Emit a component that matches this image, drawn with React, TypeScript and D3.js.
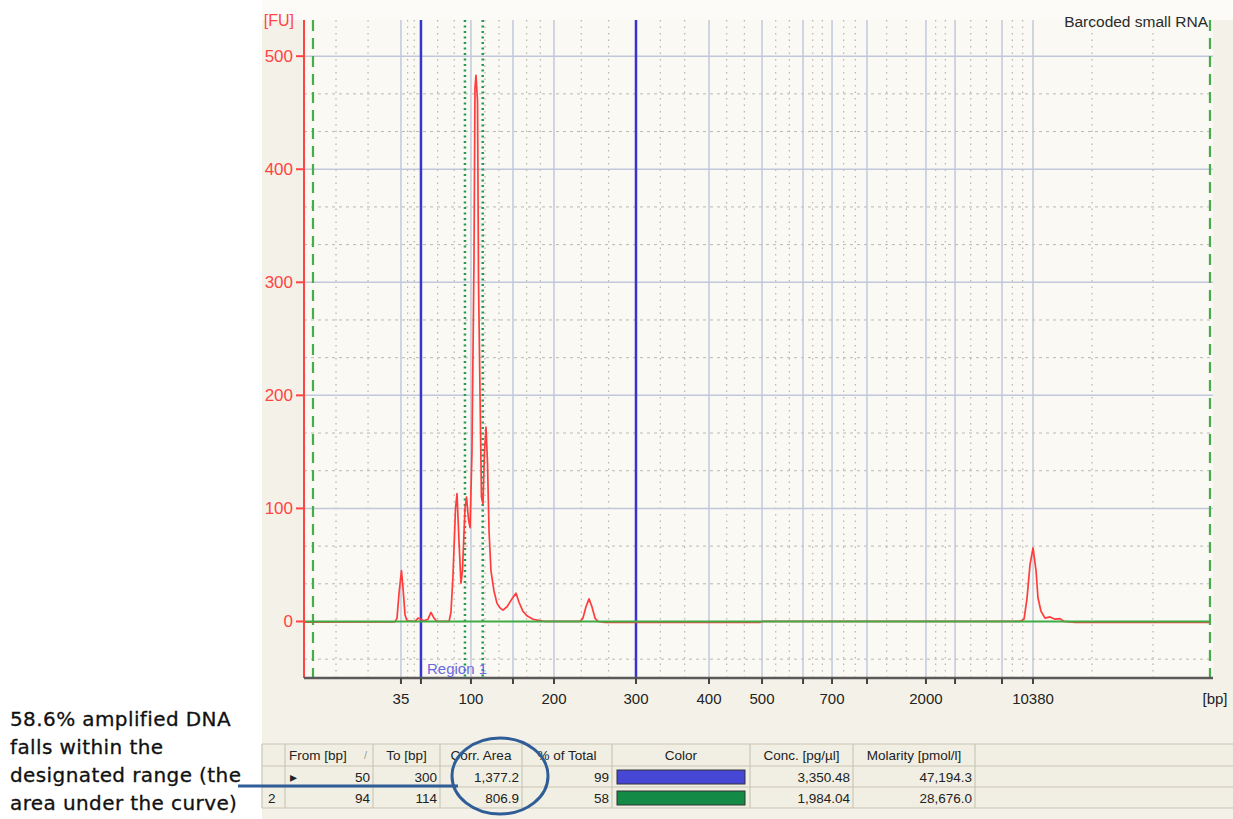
import React from 'react';
import * as d3 from 'd3';

const W = 1233;
const H = 819;

// plot frame
const PL = 304, PR = 1213, PT = 20, PB = 678;

// axis extents: migration time (s) and fluorescence (FU)
const timeDomain = [40, 130];
const fuDomain = [-50, 532];

// ladder peaks (bp) and their migration times (s)
const ladderBp = [35, 50, 100, 150, 200, 300, 400, 500, 600, 700, 1000, 2000, 3000, 7000, 10380];
const ladderTime = [49.6, 51.58, 56.53, 60.69, 64.75, 72.87, 80.1, 85.35, 89.41, 92.28, 95.74, 101.58, 104.46, 109.11, 112.18];
const labeledBp = [35, 100, 200, 300, 400, 500, 700, 2000, 10380];
const edgeGridTime = [43.17, 46.34, 118.02, 124.06];
const markerTime = [40.89, 129.7];

const yTicks = [0, 100, 200, 300, 400, 500];

// electropherogram trace
const traceTime = [
  40.0, 49.01, 49.21, 49.41, 49.65, 49.8, 50.0, 50.2, 50.99, 51.29, 51.58, 51.88, 52.28, 52.57, 52.87, 53.17,
  54.36, 54.55, 54.75, 55.0, 55.15, 55.35, 55.54, 55.69, 55.94, 56.09, 56.29, 56.44, 56.63, 56.83, 56.93, 57.03,
  57.18, 57.28, 57.43, 57.57, 57.72, 57.87, 58.02, 58.17, 58.32, 58.51, 58.81, 59.11, 59.41, 59.7, 60.1, 60.59,
  60.99, 61.29, 61.68, 62.08, 62.67, 63.37, 63.86, 67.33, 67.62, 67.92, 68.22, 68.51, 68.81, 69.11, 69.8, 85.15,
  85.35, 110.89, 111.29, 111.58, 111.88, 112.18, 112.48, 112.67, 112.97, 113.37, 113.86, 114.36, 114.85, 115.25,
  116.34, 129.7,
];
const traceFU = [
  -0.5, -0.3, 3, 25, 45, 30, 6, 0.5, 0, 3, 2, 0.5, 2, 8, 3, 0,
  0, 8, 40, 100, 113, 70, 34, 45, 100, 110, 90, 83, 150, 320, 472, 483,
  460, 300, 200, 110, 104, 150, 172, 140, 80, 45, 27, 16, 12, 10, 13, 20,
  25, 17, 9, 5, 2, 0.8, 0, 0, 3, 13, 20, 13, 3, 0, -0.8, -0.8,
  0, 0, 2, 20, 50, 65, 45, 21, 9, 3, 4, 2, 2.5, 0,
  -0.8, -0.8,
];

// region table
const tableHeaders = ['', 'From [bp]', 'To [bp]', 'Corr. Area', '% of Total', 'Color', 'Conc. [pg/µl]', 'Molarity [pmol/l]', ''];
const rowLabels = ['▸', '2'];
const regionFrom = [50, 94];
const regionTo = [300, 114];
const corrArea = ['1,377.2', '806.9'];
const pctTotal = ['99', '58'];
const regionColor = ['#4747d6', '#138a45'];
const concentration = ['3,350.48', '1,984.04'];
const molarity = ['47,194.3', '28,676.0'];

const noteLines = ['58.6% amplified DNA', 'falls within the', 'designated range (the', 'area under the curve)'];

const colX = [262, 285, 373, 440, 522, 612, 750, 853, 975, 1233];
const rowY = [744, 766, 787, 808];

const UI = '"Liberation Sans", Arial, sans-serif';
const RED = '#ff4444';

export default function App() {
  const x = d3.scaleLinear().domain(timeDomain).range([PL, PR]);
  const y = d3.scaleLinear().domain(fuDomain).range([PB, PT]);
  const bpToTime = d3.scaleLinear().domain(ladderBp).range(ladderTime);
  const xb = (bp: number) => x(bpToTime(bp));

  const minorTimes: number[] = [...edgeGridTime];
  for (let i = 0; i < ladderTime.length - 1; i++) {
    const a = ladderTime[i], b = ladderTime[i + 1];
    minorTimes.push(a + (b - a) / 3, a + (2 * (b - a)) / 3);
  }
  const minorFU = d3.range(-100 / 3, fuDomain[1], 100 / 3)
    .filter(v => Math.abs(v / 100 - Math.round(v / 100)) > 0.01);

  const line = d3.line<number>()
    .x(i => x(traceTime[i]))
    .y(i => y(traceFU[i]));
  const tracePath = line(d3.range(traceTime.length)) || '';

  return (
    <div style={{ position: 'absolute', left: 0, top: 0 }}>
      <svg width={W} height={H} style={{ display: 'block', background: '#ffffff' }}>
        {/* screenshot panel */}
        <rect x={262} y={0} width={W - 262} height={H} fill="#f4f2e8" />
        <rect x={262} y={0} width={W - 262} height={PT} fill="#fcfbf7" />
        <rect x={PL} y={PT} width={PR - PL} height={PB - PT} fill="#faf9f3" />

        {/* minor grid */}
        {minorFU.map(v => (
          <line key={'mh' + v} x1={PL} x2={PR} y1={y(v)} y2={y(v)}
            stroke="#b9b9b4" strokeWidth={1} strokeDasharray="3,4" />
        ))}
        {minorTimes.map(t => (
          <line key={'mv' + t} x1={x(t)} x2={x(t)} y1={PT} y2={PB}
            stroke="#b5b5ae" strokeWidth={1.2} strokeDasharray="1.5,5" />
        ))}

        {/* major grid */}
        {yTicks.filter(v => v > 0).map(v => (
          <line key={'gh' + v} x1={PL} x2={PR} y1={y(v)} y2={y(v)} stroke="#c2c8dc" strokeWidth={1.5} />
        ))}
        {ladderTime.map(t => (
          <line key={'gv' + t} x1={x(t)} x2={x(t)} y1={PT} y2={PB} stroke="#c2c8dc" strokeWidth={1.5} />
        ))}

        {/* region 2 (dotted green) */}
        {[regionFrom[1], regionTo[1]].map(bp => (
          <line key={'r2' + bp} x1={xb(bp)} x2={xb(bp)} y1={PT} y2={PB}
            stroke="#229a52" strokeWidth={2.5} strokeDasharray="2,3.5" />
        ))}

        {/* lower / upper markers */}
        {markerTime.map(t => (
          <line key={'mk' + t} x1={x(t)} x2={x(t)} y1={PT} y2={PB}
            stroke="#45ad4a" strokeWidth={2.2} strokeDasharray="11,7" />
        ))}

        {/* region 1 (solid blue) */}
        {[regionFrom[0], regionTo[0]].map(bp => (
          <line key={'r1' + bp} x1={xb(bp)} x2={xb(bp)} y1={PT} y2={PB} stroke="#3535cf" strokeWidth={2.5} />
        ))}

        {/* trace and baseline */}
        <path d={tracePath} fill="none" stroke="#ff3d3d" strokeWidth={1.7} strokeLinejoin="round" />
        <line x1={PL} x2={x(markerTime[1])} y1={y(0)} y2={y(0)} stroke="#3faa46" strokeWidth={2} />

        {/* y axis */}
        <line x1={PL} x2={PL} y1={PT} y2={PB} stroke={RED} strokeWidth={2} />
        {yTicks.map(v => (
          <g key={'yt' + v}>
            <line x1={PL - 8} x2={PL} y1={y(v)} y2={y(v)} stroke={RED} strokeWidth={2} />
            <text x={293} y={y(v) + 6} textAnchor="end" fontFamily={UI} fontSize={17} fill={RED}>{v}</text>
          </g>
        ))}
        <text x={294} y={26} textAnchor="end" fontFamily={UI} fontSize={16} fill={RED}>[FU]</text>

        {/* x axis */}
        <line x1={PL} x2={PR} y1={PB} y2={PB} stroke="#5a5a5a" strokeWidth={2.5} />
        {ladderBp.map(bp => (
          <line key={'xt' + bp} x1={xb(bp)} x2={xb(bp)} y1={PB} y2={PB + 6} stroke="#444" strokeWidth={2} />
        ))}
        {labeledBp.map(bp => (
          <text key={'xl' + bp} x={xb(bp)} y={704} textAnchor="middle" fontFamily={UI} fontSize={15} fill="#222">{bp}</text>
        ))}
        <text x={1215} y={704} textAnchor="middle" fontFamily={UI} fontSize={15} fill="#222">[bp]</text>

        <text x={xb(regionFrom[0]) + 6} y={674} fontFamily={UI} fontSize={15} fill="#6a6ae0">Region 1</text>
        <text x={1208} y={27} textAnchor="end" fontFamily={UI} fontSize={15.5} fill="#2a2a2a">Barcoded small RNA</text>

        {/* table */}
        <rect x={colX[0]} y={rowY[0]} width={W - colX[0]} height={rowY[3] - rowY[0]} fill="#f1efe3" />
        {rowY.map(ry => (
          <line key={'tr' + ry} x1={colX[0]} x2={W} y1={ry} y2={ry} stroke="#c9c6b6" strokeWidth={1.2} />
        ))}
        {colX.slice(0, -1).map(cx => (
          <line key={'tc' + cx} x1={cx} x2={cx} y1={rowY[0]} y2={rowY[3]} stroke="#c9c6b6" strokeWidth={1.2} />
        ))}
        {tableHeaders.map((h, i) => (
          <text key={'th' + i} x={i === 1 ? colX[1] + 4 : (colX[i] + colX[i + 1]) / 2} y={rowY[0] + 16}
            textAnchor={i === 1 ? 'start' : 'middle'} fontFamily={UI} fontSize={13.5} fill="#222">{h}</text>
        ))}
        <text x={colX[2] - 6} y={rowY[0] + 15} textAnchor="end" fontFamily={UI} fontSize={11} fill="#999">/</text>
        {rowLabels.map((lab, r) => {
          const by = rowY[r + 1] + 15.5;
          const right = (c: number) => colX[c + 1] - 3;
          return (
            <g key={'row' + r} fontFamily={UI} fontSize={13.5} fill="#222">
              <text x={r === 0 ? 290 : 268} y={by}>{lab}</text>
              <text x={right(1)} y={by} textAnchor="end">{regionFrom[r]}</text>
              <text x={right(2)} y={by} textAnchor="end">{regionTo[r]}</text>
              <text x={right(3)} y={by} textAnchor="end">{corrArea[r]}</text>
              <text x={right(4)} y={by} textAnchor="end">{pctTotal[r]}</text>
              <rect x={colX[5] + 5} y={rowY[r + 1] + 4} width={colX[6] - colX[5] - 10} height={14}
                fill={regionColor[r]} stroke="#333" strokeWidth={1} />
              <text x={right(6)} y={by} textAnchor="end">{concentration[r]}</text>
              <text x={right(7)} y={by} textAnchor="end">{molarity[r]}</text>
            </g>
          );
        })}

        {/* annotation */}
        {noteLines.map((t, i) => (
          <text key={'note' + i} x={10} y={726 + i * 28} fontFamily='"DejaVu Sans", sans-serif'
            fontSize={20} letterSpacing={0.4} fill="#111" stroke="#111" strokeWidth={0.3}>{t}</text>
        ))}
        <line x1={238} x2={458} y1={786} y2={786} stroke="#2f5d98" strokeWidth={3} />
        <ellipse cx={500} cy={776} rx={48} ry={38} fill="none" stroke="#2f5d98" strokeWidth={3} />
      </svg>
    </div>
  );
}
